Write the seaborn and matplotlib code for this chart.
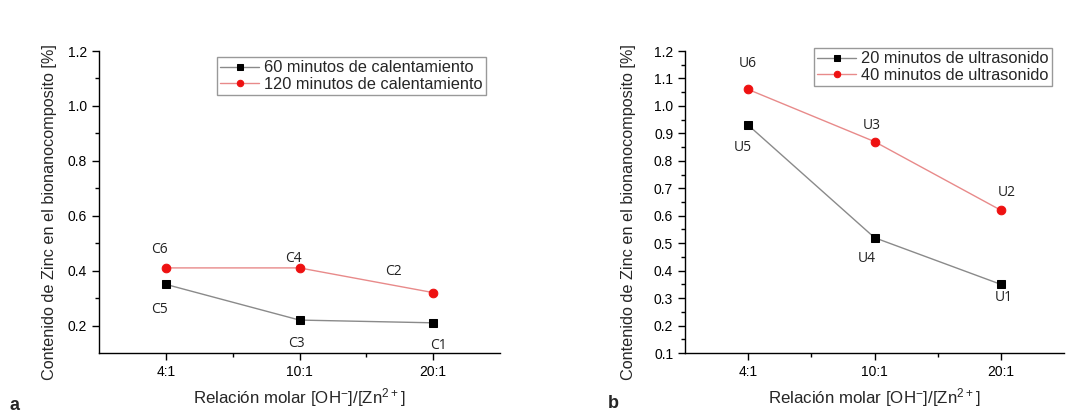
import numpy as np
import pandas as pd
import matplotlib
matplotlib.use("Agg")
import matplotlib.pyplot as plt
import seaborn as sns
from matplotlib.ticker import MultipleLocator, FixedLocator

sns.set_theme(style="white")
plt.rcParams['font.family'] = ['Liberation Sans', 'DejaVu Sans']
plt.rcParams['mathtext.default'] = 'regular'

categories = ["4:1", "10:1", "20:1"]
a_60 = [0.35, 0.22, 0.21]
a_120 = [0.41, 0.41, 0.32]
b_20 = [0.93, 0.52, 0.35]
b_40 = [1.06, 0.87, 0.62]
a_names = ["60 minutos de calentamiento", "120 minutos de calentamiento"]
b_names = ["20 minutos de ultrasonido", "40 minutos de ultrasonido"]
a_labels_60 = ["C5", "C3", "C1"]
a_labels_120 = ["C6", "C4", "C2"]
b_labels_20 = ["U5", "U4", "U1"]
b_labels_40 = ["U6", "U3", "U2"]

xlabel = r"Relación molar [OH$^{-}$]/[Zn$^{2+}$]"
ylabel = "Contenido de Zinc en el bionanocomposito [%]"

W, H = 1068, 416
fig = plt.figure(figsize=(W / 100, H / 100), dpi=100)
ax_a = fig.add_axes([0.0927, 0.1514, 0.3755, 0.7260])
ax_b = fig.add_axes([0.6414, 0.1514, 0.3549, 0.7260])

x = np.arange(len(categories))

def draw(ax, s1, s2, names, anchor, ylab_x):
    df = pd.DataFrame({
        "x": np.concatenate([x, x]),
        "y": s1 + s2,
        "serie": [names[0]] * 3 + [names[1]] * 3,
    })
    d1 = df[df.serie == names[0]]
    d2 = df[df.serie == names[1]]
    sns.lineplot(data=d1, x="x", y="y", ax=ax, color="#8a8a8a", lw=1.0,
                 marker="s", markersize=5.5, markerfacecolor="black",
                 markeredgecolor="black", label=names[0], sort=False)
    sns.lineplot(data=d2, x="x", y="y", ax=ax, color="#e88a8a", lw=1.0,
                 marker="o", markersize=6.2, markerfacecolor="#ee1111",
                 markeredgecolor="#ee1111", label=names[1], sort=False)
    ax.set_xlim(-0.5, 2.5)
    ax.set_xticks(x)
    ax.set_xticklabels(categories)
    ax.xaxis.set_minor_locator(FixedLocator([0.5, 1.5]))
    for s in ["top", "right"]:
        ax.spines[s].set_visible(False)
    for s in ["left", "bottom"]:
        ax.spines[s].set_color("black")
        ax.spines[s].set_linewidth(1.0)
    ax.tick_params(which="major", direction="out", length=5, width=1,
                   colors="black", labelsize=10, left=True, bottom=True)
    ax.tick_params(which="minor", direction="out", length=3, width=1,
                   colors="black", left=True, bottom=True)
    ax.set_xlabel(xlabel, fontsize=12.2, labelpad=5)
    ax.set_ylabel(ylabel, fontsize=11.7)
    ax.yaxis.set_label_coords(ylab_x, 0.467)
    leg = ax.legend(loc="upper right", fontsize=11.8, frameon=True,
                    fancybox=False, handlelength=2.4, handletextpad=0.3,
                    borderpad=0.2, labelspacing=0.1, markerscale=0.75,
                    borderaxespad=0,
                    bbox_to_anchor=anchor, bbox_transform=fig.transFigure)
    leg.get_frame().set_edgecolor("#808080")
    leg.get_frame().set_linewidth(1.0)
    return leg

draw(ax_a, a_60, a_120, a_names, (486 / W, 1 - 57 / H), -0.105)
ax_a.set_ylim(0.1, 1.2)
ax_a.yaxis.set_major_locator(FixedLocator([0.2, 0.4, 0.6, 0.8, 1.0, 1.2]))
ax_a.yaxis.set_minor_locator(FixedLocator([0.3, 0.5, 0.7, 0.9, 1.1]))
ax_a.set_yticklabels(["0.2", "0.4", "0.6", "0.8", "1.0", "1.2"])

draw(ax_b, b_20, b_40, b_names, (1052 / W, 1 - 48 / H), -0.129)
ax_b.set_ylim(0.1, 1.2)
ax_b.yaxis.set_major_locator(MultipleLocator(0.1))
ax_b.yaxis.set_minor_locator(MultipleLocator(0.05))
ax_b.yaxis.set_major_formatter(matplotlib.ticker.FormatStrFormatter("%.1f"))

lab_font = dict(fontsize=10, family=["Open Sans", "DejaVu Sans"], color="#222222",
                ha="center", va="center")
a_pos_60 = [(-0.045, 0.258), (0.98, 0.134), (2.04, 0.127)]
a_pos_120 = [(-0.045, 0.477), (0.957, 0.445), (1.70, 0.397)]
b_pos_20 = [(-0.04, 0.85), (0.94, 0.446), (2.02, 0.304)]
b_pos_40 = [(0.0, 1.153), (0.98, 0.927), (2.05, 0.686)]
for labs, pos in [(a_labels_60, a_pos_60), (a_labels_120, a_pos_120)]:
    for t, (px, py) in zip(labs, pos):
        ax_a.text(px, py, t, **lab_font)
for labs, pos in [(b_labels_20, b_pos_20), (b_labels_40, b_pos_40)]:
    for t, (px, py) in zip(labs, pos):
        ax_b.text(px, py, t, **lab_font)

fig.text(15 / W, 1 - 406 / H, "a", fontsize=13, fontweight="bold",
         ha="center", va="center")
fig.text(613 / W, 1 - 403 / H, "b", fontsize=13, fontweight="bold",
         ha="center", va="center")

fig.savefig("out.png", dpi=100)
